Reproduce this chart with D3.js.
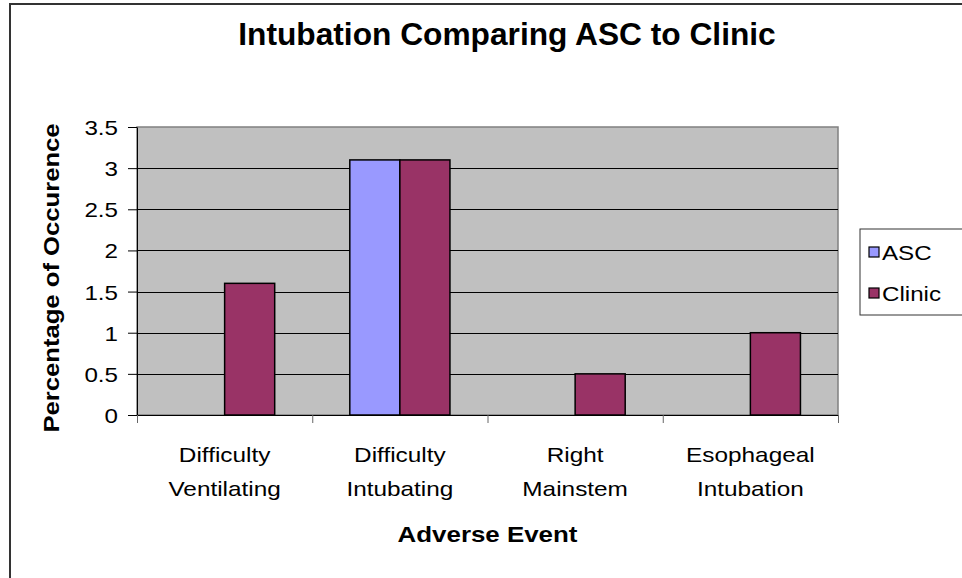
<!DOCTYPE html>
<html>
<head>
<meta charset="utf-8">
<script src="https://cdn.jsdelivr.net/npm/d3@7"></script>
<style>
  body { margin: 0; background: #fff; }
  text { font-family: "Liberation Sans", Arial, sans-serif; fill: #000; }
</style>
</head>
<body>
<script>
var categories = [
  ["Difficulty", "Ventilating"],
  ["Difficulty", "Intubating"],
  ["Right", "Mainstem"],
  ["Esophageal", "Intubation"]
];
var seriesNames = ["ASC", "Clinic"];
var ascValues = [0, 3.1, 0, 0];
var clinicValues = [1.6, 3.1, 0.5, 1.0];
var yTicks = [0, 0.5, 1, 1.5, 2, 2.5, 3, 3.5];

var colors = { ASC: "#9999ff", Clinic: "#993366" };

var width = 962, height = 578;
var plot = { left: 137, right: 838, top: 127, bottom: 415 };

var svg = d3.select("body").append("svg")
  .attr("width", width)
  .attr("height", height);

// the text in the source is drawn a bit wider than its height
function stretch(sel, k) {
  sel.each(function () {
    var w = this.getComputedTextLength();
    d3.select(this).attr("textLength", w * k).attr("lengthAdjust", "spacingAndGlyphs");
  });
}

// chart border (right and bottom fall outside the picture)
svg.append("rect")
  .attr("x", 10).attr("y", 4)
  .attr("width", 1000).attr("height", 700)
  .attr("fill", "#fff")
  .attr("stroke", "#333")
  .attr("stroke-width", 2);

var keys = categories.map(function (d, i) { return i; });

var x0 = d3.scaleBand()
  .domain(keys)
  .range([plot.left, plot.right]);

var x1 = d3.scaleBand()
  .domain(seriesNames)
  .range([0, x0.bandwidth()])
  .paddingOuter(0.75);

var xEdge = d3.scaleLinear()
  .domain([0, categories.length])
  .range([plot.left, plot.right]);

var y = d3.scaleLinear()
  .domain([0, 3.5])
  .range([plot.bottom, plot.top]);

// plot area
svg.append("rect")
  .attr("x", plot.left).attr("y", plot.top)
  .attr("width", plot.right - plot.left)
  .attr("height", plot.bottom - plot.top)
  .attr("fill", "#c0c0c0")
  .attr("stroke", "#808080")
  .attr("stroke-width", 1.5);

svg.append("g")
  .selectAll("line")
  .data(yTicks.filter(function (d) { return d > 0 && d < 3.5; }))
  .enter().append("line")
  .attr("x1", plot.left).attr("x2", plot.right)
  .attr("y1", function (d) { return Math.round(y(d)) + 0.5; })
  .attr("y2", function (d) { return Math.round(y(d)) + 0.5; })
  .attr("stroke", "#000")
  .attr("stroke-width", 1);

// bars
var rows = keys.map(function (i) {
  return [
    { cat: i, name: "ASC", value: ascValues[i] },
    { cat: i, name: "Clinic", value: clinicValues[i] }
  ];
});

svg.append("g")
  .selectAll("g")
  .data(rows)
  .enter().append("g")
  .attr("transform", function (d, i) { return "translate(" + x0(i) + ",0)"; })
  .selectAll("rect")
  .data(function (d) { return d.filter(function (b) { return b.value > 0; }); })
  .enter().append("rect")
  .attr("x", function (d) { return x1(d.name); })
  .attr("y", function (d) { return y(d.value); })
  .attr("width", x1.bandwidth())
  .attr("height", function (d) { return y(0) - y(d.value); })
  .attr("fill", function (d) { return colors[d.name]; })
  .attr("stroke", "#000")
  .attr("stroke-width", 1.5);

// axes
var yAxis = svg.append("g")
  .attr("transform", "translate(" + plot.left + ",0)")
  .call(d3.axisLeft(y).tickValues(yTicks).tickSize(9).tickSizeOuter(0).tickFormat(function (d) { return String(d); }));

yAxis.select(".domain").attr("stroke", "#000");
yAxis.selectAll(".tick line").attr("stroke", "#000");
yAxis.selectAll(".tick text")
  .attr("x", -19)
  .attr("dy", "0.36em")
  .style("font-size", "21px")
  .call(stretch, 1.15);

var xAxis = svg.append("g")
  .attr("transform", "translate(0," + plot.bottom + ")")
  .call(d3.axisBottom(xEdge).ticks(categories.length).tickSize(8).tickSizeOuter(0).tickFormat(""));

xAxis.select(".domain").attr("stroke", "#000");
xAxis.selectAll(".tick line").attr("stroke", "#666");

var catLabels = svg.append("g")
  .selectAll("g")
  .data(categories)
  .enter().append("g")
  .attr("transform", function (d, i) { return "translate(" + (x0(i) + x0.bandwidth() / 2) + ",0)"; });

catLabels.append("text")
  .attr("y", 462)
  .attr("text-anchor", "middle")
  .style("font-size", "21px")
  .text(function (d) { return d[0]; })
  .call(stretch, 1.16);

catLabels.append("text")
  .attr("y", 496)
  .attr("text-anchor", "middle")
  .style("font-size", "21px")
  .text(function (d) { return d[1]; })
  .call(stretch, 1.16);

// titles
svg.append("text")
  .attr("x", 507).attr("y", 45)
  .attr("text-anchor", "middle")
  .style("font-size", "31.7px")
  .style("font-weight", "bold")
  .text("Intubation Comparing ASC to Clinic");

svg.append("text")
  .attr("x", (plot.left + plot.right) / 2).attr("y", 542)
  .attr("text-anchor", "middle")
  .style("font-size", "22.5px")
  .style("font-weight", "bold")
  .text("Adverse Event")
  .call(stretch, 1.15);

svg.append("text")
  .attr("transform", "translate(59,278) rotate(-90)")
  .attr("text-anchor", "middle")
  .style("font-size", "22.3px")
  .style("font-weight", "bold")
  .text("Percentage of Occurence")
  .call(stretch, 1.15);

// legend
var legend = svg.append("g");

legend.append("rect")
  .attr("x", 860).attr("y", 229)
  .attr("width", 150).attr("height", 86)
  .attr("fill", "#fff")
  .attr("stroke", "#333")
  .attr("stroke-width", 1);

var item = legend.selectAll("g")
  .data(seriesNames)
  .enter().append("g")
  .attr("transform", function (d, i) { return "translate(869," + (247 + i * 41) + ")"; });

item.append("rect")
  .attr("width", 10).attr("height", 10)
  .attr("fill", function (d) { return colors[d]; })
  .attr("stroke", "#000")
  .attr("stroke-width", 1.2);

item.append("text")
  .attr("x", 13).attr("y", 12.5)
  .style("font-size", "21px")
  .text(function (d) { return d; })
  .call(stretch, 1.15);
</script>
</body>
</html>
